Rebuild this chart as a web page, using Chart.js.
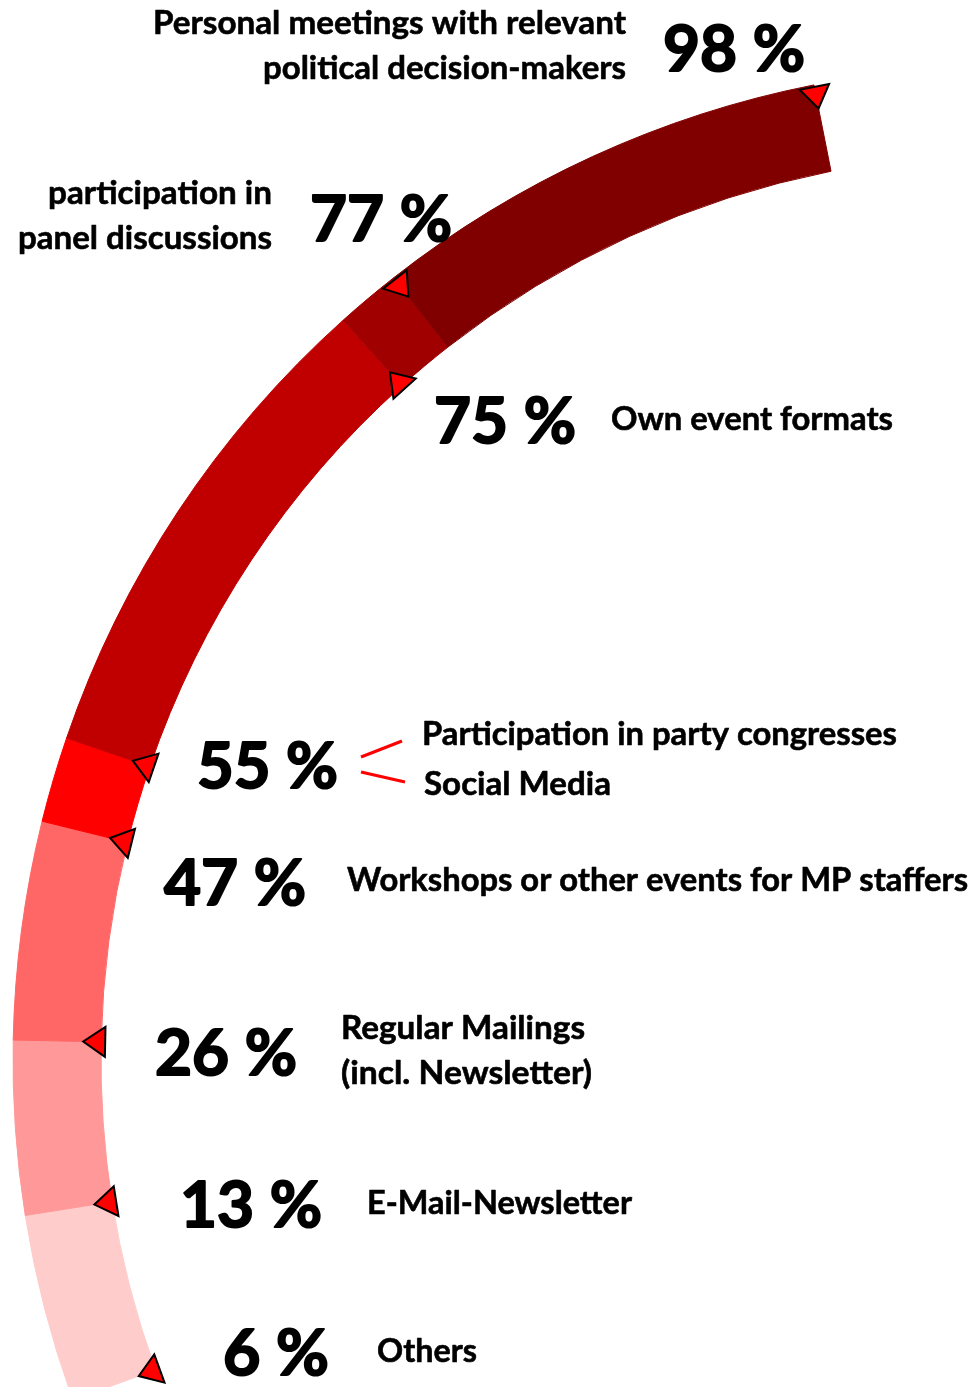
<!DOCTYPE html>
<html>
<head>
<meta charset="utf-8">
<script src="https://cdn.jsdelivr.net/npm/chart.js@4/dist/chart.umd.min.js"></script>
<style>
  html, body { margin: 0; padding: 0; background: #fff; overflow: hidden; }
  #wrap { position: relative; width: 976px; height: 1387px; }
</style>
</head>
<body>
<div id="wrap"><canvas id="arcChart"></canvas></div>
<script>
// values along the arc, from the bottom end to the top end
var shares = [6, 13, 26, 47, 55, 75, 77, 98];
var categories = [
  ['Others'],
  ['E-Mail-Newsletter'],
  ['Regular Mailings', '(incl. Newsletter)'],
  ['Workshops or other events for MP staffers'],
  ['Participation in party congresses', 'Social Media'],
  ['Own event formats'],
  ['participation in', 'panel discussions'],
  ['Personal meetings with relevant', 'political decision-makers']
];
// angular size (degrees) of each band between two values, as drawn in the original
// (the original does not draw the bands to scale)
var bandSpans = [11.0, 10.15, 12.75, 5.0, 29.2, 3.8, 26.9];
var bandColors = ['#ffcccc', '#ff9999', '#ff6666', '#ff0000', '#c00000', '#a00000', '#800000'];

// layout
var CENTER = { x: 1007, y: 1060 };
var OUTER_R = 994, INNER_R = 906;
var START_DEG = 160; // canvas angle of the bottom end
var markerSide = ['in', 'in', 'in', 'in', 'in', 'in', 'out', 'out'];
// percent text: left x, baseline, width
var pctPos = [[223, 1375, 106], [180, 1227, 142], [155, 1075, 142], [164, 905, 142],
              [197, 788, 141], [434, 443, 142], [310, 241, 142], [663, 71, 142]];
// label lines: x, baseline, width, align
var labelPos = [
  [[377, 1362, 100, 'left']],
  [[367, 1214, 265, 'left']],
  [[341, 1039, 244, 'left'], [341, 1084, 251, 'left']],
  [[347, 891, 621, 'left']],
  [[422, 745, 475, 'left'], [424, 795, 187, 'left']],
  [[611, 430, 282, 'left']],
  [[272, 204, 224, 'right'], [272, 249, 254, 'right']],
  [[626, 34, 473, 'right'], [626, 79, 363, 'right']]
];
var connectors = [[361, 757, 402, 741], [361, 772, 405, 782]];

var FONT = 'Lato, "Open Sans", sans-serif';

function fitText(ctx, txt, x, y, w, size, heavy, align) {
  ctx.font = 'bold ' + size + 'px ' + FONT;
  var m = ctx.measureText(txt).width;
  ctx.save();
  ctx.translate(x, y);
  ctx.scale(w / m, 1);
  ctx.textAlign = align;
  ctx.textBaseline = 'alphabetic';
  ctx.fillStyle = '#000';
  ctx.fillText(txt, 0, 0);
  if (heavy) {
    ctx.lineWidth = heavy;
    ctx.lineJoin = 'round';
    ctx.strokeStyle = '#000';
    ctx.strokeText(txt, 0, 0);
  }
  ctx.restore();
}

function marker(ctx, cx, cy, ang, rBase, rTip) {
  var c = Math.cos(ang), s = Math.sin(ang);
  var bx = cx + rBase * c, by = cy + rBase * s;
  var tx = -s, ty = c;
  ctx.beginPath();
  ctx.moveTo(bx + 15 * tx, by + 15 * ty);
  ctx.lineTo(bx - 15 * tx, by - 15 * ty);
  ctx.lineTo(cx + rTip * c, cy + rTip * s);
  ctx.closePath();
  ctx.fillStyle = '#ff0000';
  ctx.fill();
  ctx.lineWidth = 2;
  ctx.lineJoin = 'miter';
  ctx.strokeStyle = '#000';
  ctx.stroke();
}

var overlay = {
  id: 'overlay',
  afterDatasetsDraw: function (chart) {
    var ctx = chart.ctx;
    var arcs = chart.getDatasetMeta(0).data;
    var cx = arcs[0].x, cy = arcs[0].y;
    var rIn = arcs[0].innerRadius, rOut = arcs[0].outerRadius;
    var angles = [arcs[0].startAngle];
    arcs.forEach(function (a) { angles.push(a.endAngle); });

    ctx.save();
    angles.forEach(function (ang, i) {
      if (markerSide[i] === 'out') marker(ctx, cx, cy, ang, rOut - 2, rOut - 24);
      else marker(ctx, cx, cy, ang, rIn - 4, rIn + 18);
    });

    ctx.strokeStyle = '#ff0000';
    ctx.lineWidth = 3;
    connectors.forEach(function (l) {
      ctx.beginPath();
      ctx.moveTo(l[0], l[1]);
      ctx.lineTo(l[2], l[3]);
      ctx.stroke();
    });

    shares.forEach(function (v, i) {
      var p = pctPos[i];
      fitText(ctx, v + ' %', p[0], p[1], p[2], 64, 2, 'left');
      categories[i].forEach(function (line, j) {
        var q = labelPos[i][j];
        fitText(ctx, line, q[0], q[1], q[2], 33, 0.6, q[3]);
      });
    });
    ctx.restore();
  }
};

var totalSpan = bandSpans.reduce(function (a, b) { return a + b; }, 0);

var ctx = document.getElementById('arcChart').getContext('2d');
var myChart = new Chart(ctx, {
  type: 'doughnut',
  data: {
    labels: bandSpans.map(function (s, i) { return shares[i] + '-' + shares[i + 1] + ' %'; }),
    datasets: [{
      data: bandSpans,
      backgroundColor: bandColors,
      borderColor: bandColors,
      borderWidth: 1
    }]
  },
  options: {
    responsive: true,
    maintainAspectRatio: false,
    animation: false,
    events: [],
    rotation: START_DEG + 90,
    circumference: totalSpan,
    radius: OUTER_R,
    cutout: (INNER_R / OUTER_R * 100) + '%',
    layout: { padding: 0 },
    plugins: {
      legend: { display: false },
      tooltip: { enabled: false }
    }
  },
  plugins: [overlay]
});

// move the chart area so that the arc centre sits where it is in the original
var a0 = myChart.getDatasetMeta(0).data[0];
var dx = CENTER.x - a0.x, dy = CENTER.y - a0.y;
myChart.options.layout.padding = {
  left: Math.max(0, 2 * dx), right: Math.max(0, -2 * dx),
  top: Math.max(0, 2 * dy), bottom: Math.max(0, -2 * dy)
};
myChart.update('none');
</script>
</body>
</html>
